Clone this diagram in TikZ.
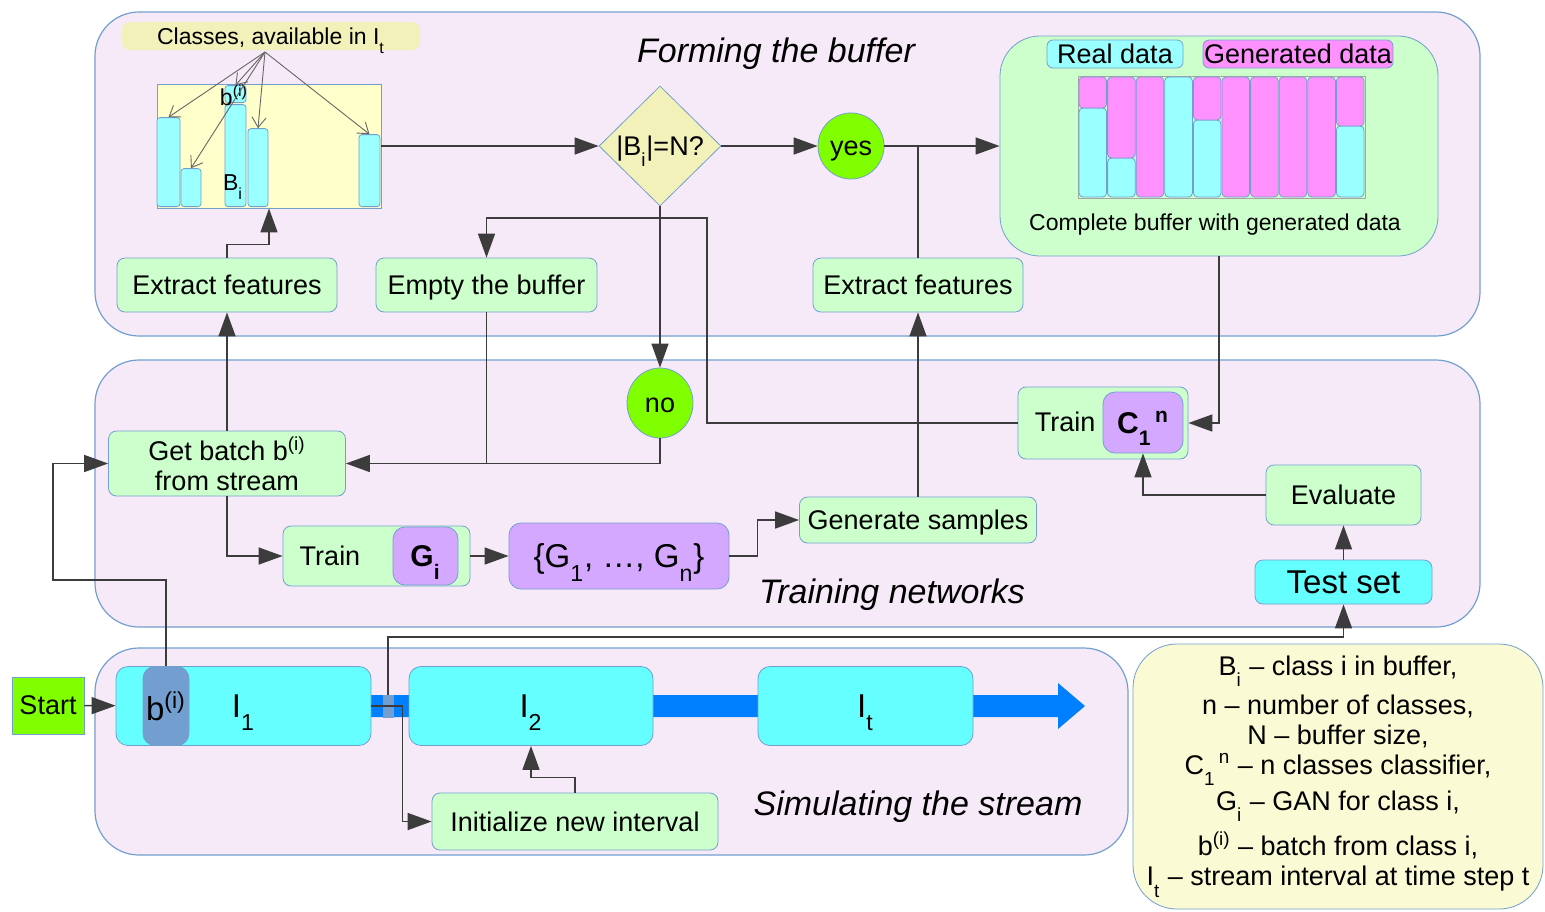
\documentclass[tikz,border=0pt]{standalone}
\usepackage{fontspec}
\setmainfont{Liberation Sans}
\usetikzlibrary{arrows.meta,shapes.geometric,calc}
\definecolor{pc}{RGB}{247,234,248}
\definecolor{ec}{RGB}{114,159,207}
\definecolor{gc}{RGB}{204,255,204}
\definecolor{cc}{RGB}{102,255,255}
\definecolor{bc}{RGB}{153,255,255}
\definecolor{vc}{RGB}{213,168,255}
\definecolor{mc}{RGB}{255,145,255}
\definecolor{yc}{RGB}{243,241,186}
\definecolor{ac}{RGB}{255,255,204}
\definecolor{lgc}{RGB}{250,250,212}
\definecolor{kc}{RGB}{128,255,0}
\definecolor{sc}{RGB}{0,128,255}
\definecolor{lk}{RGB}{60,60,60}
\newcommand\fmain{\fontsize{13.5}{15}\selectfont}
\newcommand\fsmall{\fontsize{11.5}{14}\selectfont}
\newcommand\fbig{\fontsize{16.5}{19}\selectfont}
\newcommand\fbold{\fontsize{15}{17}\selectfont\bfseries}
\newcommand\ftitle{\fontsize{17}{20}\selectfont\itshape}
\newcommand\lo[1]{\raisebox{-.25em}{\textsubscript{#1}}}
\newcommand\Cn{C\lo{1}\textsuperscript{\,n}}
\tikzset{mid/.style={text depth=0pt,execute at begin node=\vphantom{E}},
 pan/.style={draw=ec,fill=pc,rounded corners=22pt,line width=.6pt},
 gbox/.style={draw=ec,fill=gc,rounded corners=4pt,inner sep=0pt,font=\fmain,mid},
 cbox/.style={gbox,fill=cc,rounded corners=6pt},vbox/.style={gbox,fill=vc,rounded corners=6pt},
 bar/.style={draw=ec,fill=bc,rounded corners=1.5pt,inner sep=0pt,anchor=south},
 ball/.style={circle,draw=ec,fill=kc,inner sep=0pt,font=\fmain,mid},
 ttl/.style={font=\ftitle,inner sep=0pt,mid},lbl/.style={inner sep=0pt},
 wire/.style={draw=lk,line width=.8pt},arr/.style={wire,-{Triangle[length=12pt,width=8.5pt]}},
 fine/.style={draw=gray!80!black,line width=.45pt,-{Straight Barb[length=5pt,width=7pt]}}}
\begin{document}
\begin{tikzpicture}[x=.5pt,y=-.5pt]
\fill[white] (0,0) rectangle (1545,911);
\useasboundingbox (0,0) rectangle (1545,911);
\draw[pan] (95,12) rectangle (1480,336);\draw[pan] (95,360) rectangle (1480,627);\draw[pan] (95,648) rectangle (1128,855);
\node[ttl] (t1) at (776,50) {Forming the buffer};
\node[ttl] (t2) at (892,591) {Training networks};
\node[ttl] (t3) at (918,803) {Simulating the stream};
\node[gbox,fill=yc,draw=none,font=\fsmall,minimum width=149pt,minimum height=14pt] (avail) at (271,36) {Classes, available in I\lo{t}};
\node[draw=ec,fill=ac,minimum width=112pt,minimum height=62pt,inner sep=0pt] (area) at (269,146) {};
\foreach \n/\cx/\w/\h in {1/168.5/11.5/44.5,2/191/10/19,3/235.5/10.5/51,4/258/10/39,5/369.5/10.5/36}
 \node[bar,minimum width=\w pt,minimum height=\h pt] (k\n) at (\cx,207) {};
\node[bar,minimum width=10.5pt,minimum height=8.5pt] (k3b) at (235.5,103) {};
\node[lbl,font=\fsmall] (lbb) at (234,95) {b\textsuperscript{(i)}};
\node[lbl,font=\fsmall] (lBi) at (233,187) {B\lo{i}};
\coordinate (fan) at (265,52);
\foreach \n in {1,2,3b,4,5} \draw[fine] (fan) -- (k\n.north);
\node[diamond,draw=ec,fill=yc,minimum width=61pt,minimum height=60pt,inner sep=0pt,font=\fmain,mid] (ask) at (660,146) {|B\lo{i}|=N?};
\node[ball,minimum size=33pt] (yes) at (851,146) {yes};
\node[gbox,rounded corners=20pt,minimum width=219pt,minimum height=110pt] (buf) at (1219,146) {};
\node[gbox,fill=bc,rounded corners=3pt,minimum width=68pt,minimum height=14pt] (real) at (1115,54) {Real data};
\node[gbox,fill=mc,rounded corners=3pt,minimum width=95pt,minimum height=14pt] (gend) at (1298,54) {Generated data};
\draw[draw=gray!70] (1078,76) rectangle (1365,198);
\foreach \k/\s in {0/108,1/158,3/77,4/120,9/126}
 \draw[draw=ec,fill=bc,rounded corners=2pt] (1079+28.6*\k,\s) rectangle (1106.6+28.6*\k,197);
\foreach \k/\s in {0/108,1/158,2/197,4/120,5/197,6/197,7/197,8/197,9/126}
 \draw[draw=ec,fill=mc,rounded corners=2pt] (1079+28.6*\k,77) rectangle (1106.6+28.6*\k,\s);
\node[lbl,font=\fsmall,mid] (note) at (1215,222) {Complete buffer with generated data};
\node[gbox,minimum width=110pt,minimum height=27pt] (ext1) at (227,285) {Extract features};
\node[gbox,minimum width=110.5pt,minimum height=27pt] (empty) at (486.5,285) {Empty the buffer};
\node[gbox,minimum width=105pt,minimum height=27pt] (ext2) at (918,285) {Extract features};
\node[ball,ellipse,minimum width=33pt,minimum height=35pt] (no) at (660,403) {no};
\node[gbox,align=center,text depth={},minimum width=118.5pt,minimum height=32.5pt] (getb) at (227,463.5) {Get batch b\textsuperscript{(i)}\\from stream};
\node[gbox,minimum width=93.5pt,minimum height=30pt] (traing) at (376.5,556) {};
\node[vbox,font=\fbold,minimum width=32.5pt,minimum height=29pt] (gi) at (425.5,556) {G\lo{i}};
\node[lbl,font=\fmain,mid] (traingt) at (330,556) {Train};
\node[vbox,font=\fbig,minimum width=110pt,minimum height=33pt] (gset) at (619,556) {\{G\lo{1}, …, G\lo{n}\}};
\node[gbox,minimum width=118.5pt,minimum height=23pt] (gen) at (918,520) {Generate samples};
\node[gbox,minimum width=85pt,minimum height=36pt] (trainc) at (1103,423) {};
\node[vbox,font=\fbold,minimum width=40pt,minimum height=30.5pt] (cn) at (1143,422.5) {\Cn};
\node[lbl,font=\fmain,mid] (trainct) at (1065,422) {Train};
\node[gbox,minimum width=77.5pt,minimum height=30pt] (eval) at (1343.5,495) {Evaluate};
\node[cbox,rounded corners=4pt,font=\fbig,minimum width=88.5pt,minimum height=22pt] (tset) at (1343.5,582) {Test set};
\fill[sc] (371,695) -- (1058,695) -- (1058,683) -- (1085,706) -- (1058,729) -- (1058,717) -- (371,717) -- cycle;
\node[draw=ec,fill=kc,font=\fmain,mid,minimum width=36pt,minimum height=28.5pt,inner sep=0pt] (start) at (48,705.5) {Start};
\node[cbox,font=\fbig,minimum width=127.5pt,minimum height=39.5pt] (i1) at (243.5,706) {I\lo{1}};
\node[cbox,fill=ec,font=\fbig,minimum width=23pt,minimum height=39.5pt] (bsel) at (166,706) {b\textsuperscript{(i)}};
\node[draw=ec,fill=ec,minimum width=5pt,minimum height=11pt,inner sep=0pt] (cut) at (388,706) {};
\node[cbox,font=\fbig,minimum width=122pt,minimum height=39.5pt] (i2) at (531,706) {I\lo{2}};
\node[cbox,font=\fbig,minimum width=107.5pt,minimum height=39.5pt] (it) at (865.5,706) {I\lo{t}};
\node[gbox,minimum width=143pt,minimum height=28.5pt] (init) at (575,821.5) {Initialize new interval};
\node[draw=ec,fill=lgc,rounded corners=22pt,minimum width=205pt,minimum height=132.5pt,align=center,font=\fmain] (key) at (1338,776.5)
 {B\lo{i} – class i in buffer,\\[3pt] n – number of classes,\\ N – buffer size,\\ \Cn{} – n classes classifier,\\[2pt]
 G\lo{i} – GAN for class i,\\[4pt] b\textsuperscript{(i)} – batch from class i,\\ I\lo{t} – stream interval at time step t};
\draw[arr] (ext1.north) -- ++(0,-13) -| (area.south);
\draw[arr] (area.east) -- (ask.west);\draw[arr] (ask) -- (yes);\draw[arr] (yes) -- (buf);
\draw[wire] (ext2.north) -- (ext2.north |- yes);
\draw[arr] (ask.south) -- (no.north);\draw[arr] (no.south) |- (getb.east);
\draw[wire] (empty.south) -- (empty.south |- getb.east);
\draw[arr] (trainc.west) -| (707,218) -| (empty.north);
\draw[arr] (buf.south) |- (trainc.east);
\draw[arr] (getb) -- (ext1);\draw[arr] (getb.south) |- (traing.west);\draw[arr] (traing) -- (gset);
\draw[arr] (gset.east) -- ++(28,0) |- (gen.west);\draw[arr] (gen) -- (ext2);
\draw[arr] (eval.west) -| (cn.south);\draw[arr] (tset) -- (eval);
\draw[arr] (start) -- (i1);
\draw[arr] (bsel.north) |- (53,580) |- (getb.west);
\draw[arr] (i1.east) -- ++(31,0) |- (init.west);
\draw[arr] (init.north) -- ++(0,-15) -| (i2.south);
\draw[arr] (cut.north) |- (tset.south |- 0,637) -- (tset.south);
\end{tikzpicture}
\end{document}
